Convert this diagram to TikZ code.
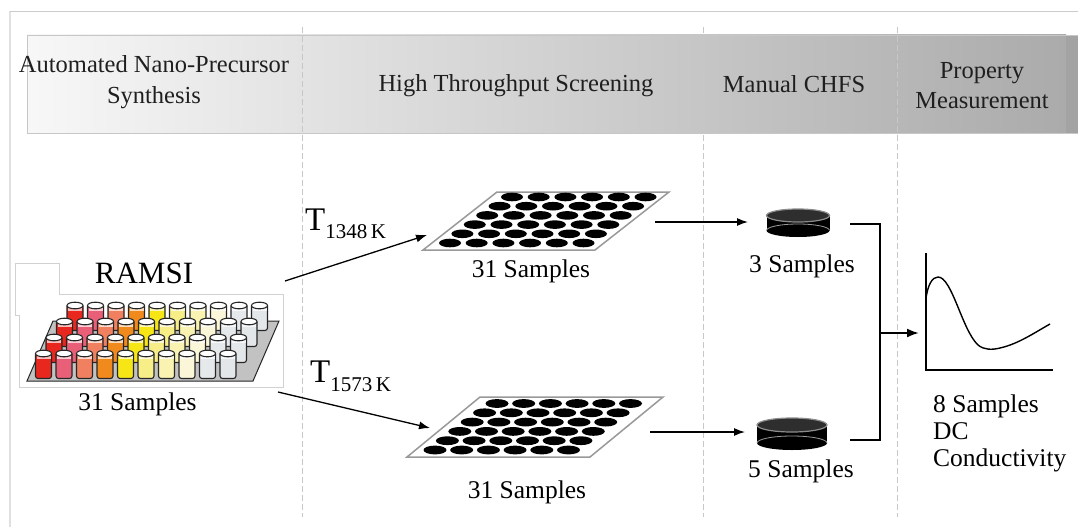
\documentclass[tikz,border=0pt]{standalone}
\usepackage{fontspec}
\setmainfont{Liberation Serif}
\usetikzlibrary{arrows.meta}
\begin{document}
\begin{tikzpicture}[x=1pt,y=-1pt,
  hdr/.style={font=\fontsize{24.5}{30.5}\selectfont, align=center, text=black!88, inner sep=0pt},
  lbl/.style={font=\fontsize{25.5}{27}\selectfont, inner sep=0pt, anchor=base},
  flow/.style={-{Latex[length=11pt,width=8pt]}, line width=1.3pt},
  phase/.style={draw=black!22, line width=1pt, dash pattern=on 6pt off 3pt},
  plate/.style={fill=white, draw=black!40, line width=1.5pt},
  puckbody/.style={fill=black},
  pucktop/.style={fill=black!82, draw=black!45, line width=1.2pt},
  pics/tube/.style={code={
    \filldraw[fill=#1, draw=black!85, line width=1.1pt, rounded corners=2.5pt]
      (-8,0) -- (-8,25) -- (8,25) -- (8,0);
    \fill[white, opacity=0.7] (-7,0) rectangle (7,5.5);
    \filldraw[fill=white, draw=black!85, line width=1.1pt] (0,0) ellipse [x radius=8pt, y radius=3.3pt];
  }}
]
\useasboundingbox (0,0) rectangle (1078,527);
\fill[white] (0,0) rectangle (1078,527);

% outer frame
\draw[black!12, line width=2pt] (9.5,11) -- (9.5,527);
\draw[black!20, line width=0.8pt] (9.5,11) -- (1078,11);

% stage header band
\shade[left color=black!3, middle color=black!15, right color=black!33] (27,35) rectangle (1066,133);
\fill[black!36] (1066,35) rectangle (1078,133);
\draw[black!22, line width=0.8pt] (1078,35) -- (27,35) -- (27,133) -- (1078,133);

% stage separators
\draw[phase] (302,27) -- (302,517);
\draw[phase] (703.5,27) -- (703.5,517);
\draw[phase] (897,27) -- (897,517);

% stage titles
\node[hdr] (h1) at (154,82) {Automated Nano-Precursor\\Synthesis};
\node[hdr] (h2) at (516,86) {High Throughput Screening};
\node[hdr] (h3) at (794,84) {Manual CHFS};
\node[hdr] (h4) at (982,85.5) {Property\\Measurement};

% RAMSI panel
\filldraw[fill=white, draw=black!18, line width=0.8pt]
  (15,263) -- (59,263) -- (59,294) -- (283,294) -- (283,387) -- (19,387) -- (19,315) -- (15,315) -- cycle;
\node[font=\fontsize{31}{31}\selectfont, inner sep=0pt] (ramsi) at (144,273) {RAMSI};

% tube rack
\filldraw[fill=black!24, draw=black!85, line width=1pt]
  (27,381) -- (253,381) -- (279,321) -- (53,321) -- cycle;
\foreach \r/\yy in {3/305.5, 2/321.5, 1/337.5, 0/353.5} {
  \foreach \c/\col in {0/{rgb,255:red,232;green,40;blue,30},
                       1/{rgb,255:red,234;green,95;blue,120},
                       2/{rgb,255:red,240;green,128;blue,96},
                       3/{rgb,255:red,241;green,138;blue,28},
                       4/{rgb,255:red,247;green,230;blue,22},
                       5/{rgb,255:red,248;green,238;blue,136},
                       6/{rgb,255:red,249;green,242;blue,176},
                       7/{rgb,255:red,251;green,246;blue,216},
                       8/{rgb,255:red,230;green,233;blue,236},
                       9/{rgb,255:red,228;green,231;blue,234}} {
    \pic at ({43.5+20.5*\c+10.5*\r},\yy) {tube={\col}};
  }
}
\node[lbl] (s0) at (137.5,410) {31 Samples};

% screening plates
\filldraw[plate] (423,250) -- (595,250) -- (669,192) -- (497,192) -- cycle;
\foreach \r in {0,...,5}
  \foreach \c in {0,...,5}
    \fill ({512-12.4*\r+26.7*\c},{197+9.2*\r}) ellipse [x radius=11pt, y radius=4.3pt];
\node[lbl] (s1) at (531,277) {31 Samples};

\filldraw[plate] (407,457) -- (590,457) -- (663,397) -- (480,397) -- cycle;
\foreach \r in {0,...,5}
  \foreach \c in {0,...,5}
    \fill ({497-12.4*\r+26.7*\c},{403.5+9.3*\r}) ellipse [x radius=11.5pt, y radius=4.4pt];
\node[lbl] (s2) at (527,498) {31 Samples};

% CHFS pucks
\fill[puckbody] (766.5,215.5) rectangle (829.5,230.5);
\fill[puckbody] (798,230.5) ellipse [x radius=31.5pt, y radius=6.5pt];
\draw[black!40, line width=0.8pt] (766.5,230.5) arc[start angle=180, end angle=360, x radius=31.5pt, y radius=-6.5pt];
\filldraw[pucktop] (798,215.5) ellipse [x radius=31.5pt, y radius=6.5pt];
\node[lbl] (s3) at (802,272) {3 Samples};

\fill[puckbody] (757,425) rectangle (827,443);
\fill[puckbody] (792,443) ellipse [x radius=35pt, y radius=7pt];
\draw[black!40, line width=0.8pt] (757,443) arc[start angle=180, end angle=360, x radius=35pt, y radius=-7pt];
\filldraw[pucktop] (792,425) ellipse [x radius=35pt, y radius=7pt];
\node[lbl] (s5) at (801,477) {5 Samples};

% conductivity plot
\coordinate (ytop) at (926,253);
\coordinate (orig) at (926,370);
\coordinate (xend) at (1053,370);
\draw[line width=1.4pt] (ytop) -- (orig) -- (xend);
\draw[line width=1.4pt] (926,298) .. controls (928,285) and (932,277) .. (938,277)
  .. controls (952,277) and (962,330) .. (978,345)
  .. controls (984,350) and (992,350) .. (1000,348)
  .. controls (1018,344) and (1034,333) .. (1050,324);
\node[font=\fontsize{25.5}{27}\selectfont, align=left, inner sep=0pt, anchor=north west]
  (s8) at (933,395) {8 Samples\\DC\\Conductivity};

% temperature-labelled branches
\coordinate (rackA) at (285,281);
\coordinate (plateAin) at (427,235);
\coordinate (rackB) at (278,392);
\coordinate (plateBin) at (430,428);
\draw[flow] (rackA) -- (plateAin);
\draw[flow] (rackB) -- (plateBin);
\node[font=\fontsize{33}{33}\selectfont, inner sep=0pt, anchor=base west] (tA) at (305,230)
  {T\raisebox{-8pt}{\fontsize{21}{21}\selectfont 1348\,K}};
\node[font=\fontsize{33}{33}\selectfont, inner sep=0pt, anchor=base west] (tB) at (310,382)
  {T\raisebox{-9pt}{\fontsize{21}{21}\selectfont 1573\,K}};

% plates to CHFS
\coordinate (plateAout) at (655,222);
\coordinate (puckAin) at (748,222);
\coordinate (plateBout) at (650,432);
\coordinate (puckBin) at (745,432);
\draw[flow] (plateAout) -- (puckAin);
\draw[flow] (plateBout) -- (puckBin);

% merge into measurement
\coordinate (puckAout) at (850,224);
\coordinate (puckBout) at (850,440);
\coordinate (merge) at (880,333);
\coordinate (plotin) at (919,333);
\draw[line width=1.3pt] (puckAout) -- (880,224) -- (880,440) -- (puckBout);
\draw[-{Latex[length=12pt,width=9pt]}, line width=2pt] (merge) -- (plotin);
\end{tikzpicture}
\end{document}
